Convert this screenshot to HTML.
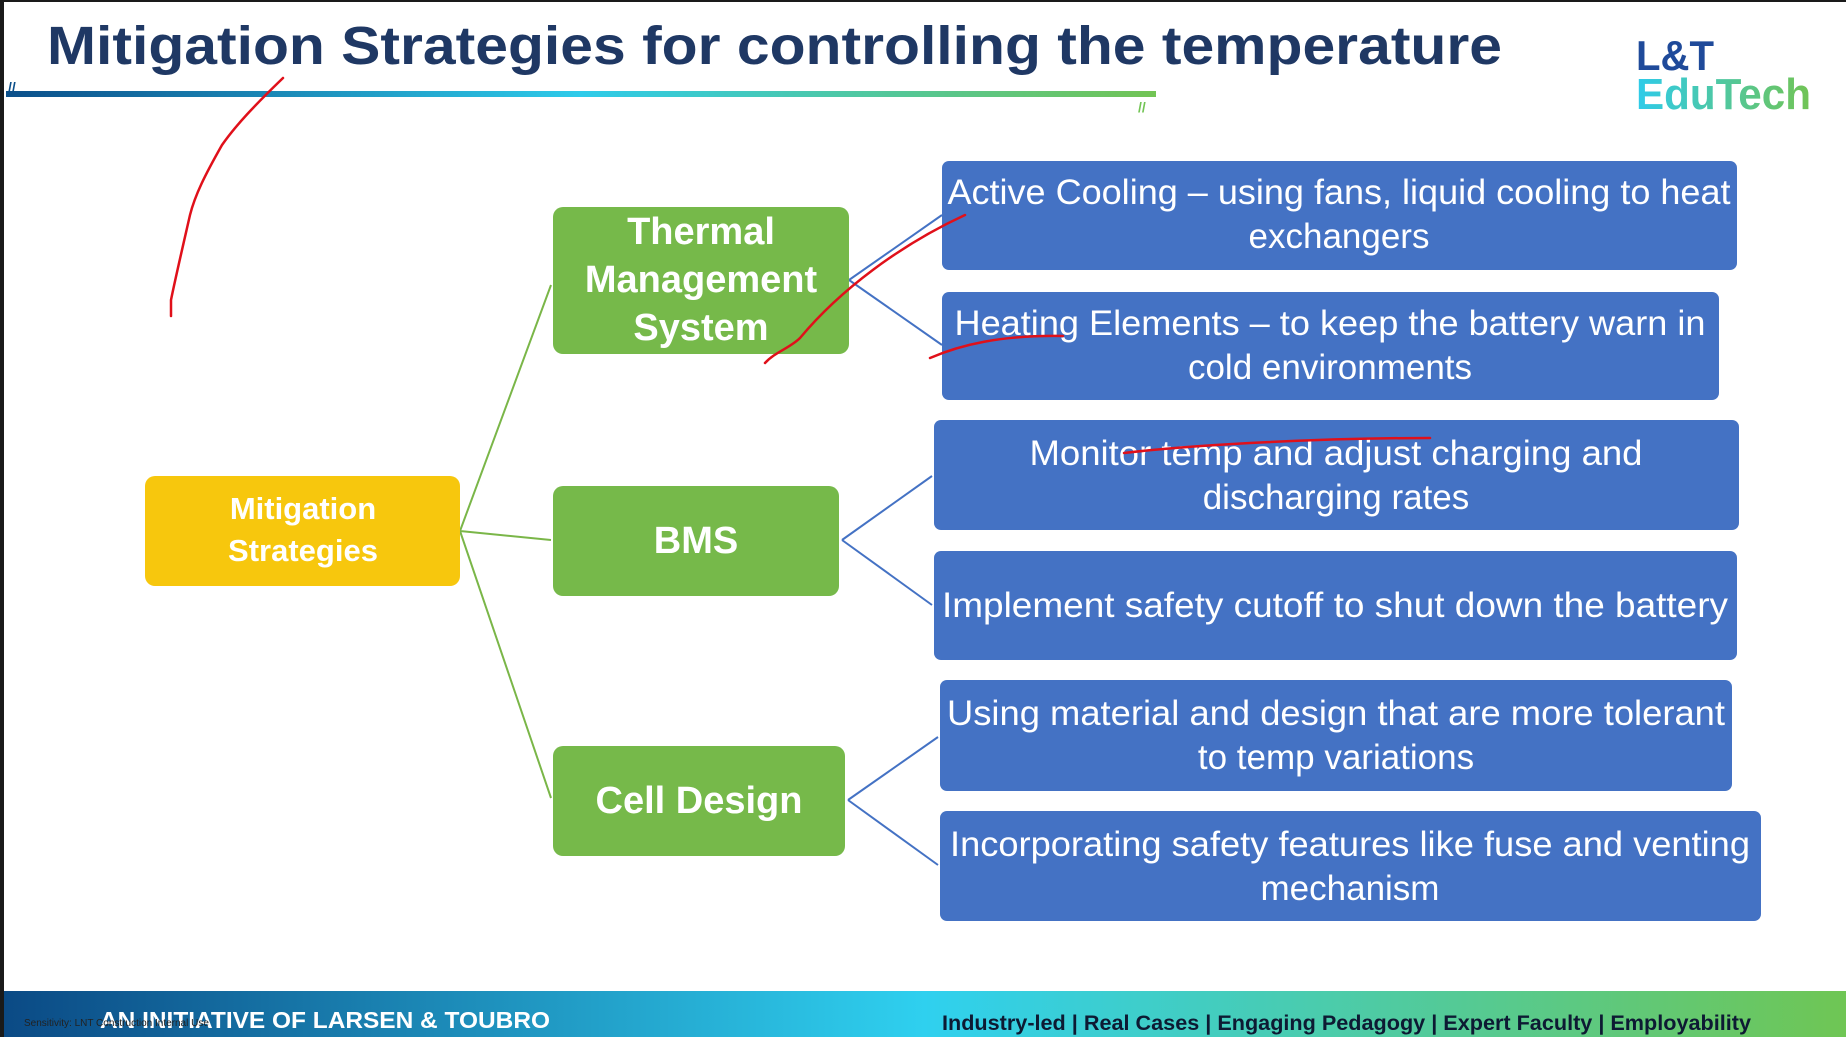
<!DOCTYPE html>
<html><head><meta charset="utf-8"><style>
html,body{margin:0;padding:0;background:#fff}
svg{display:block}
text{font-family:"Liberation Sans",sans-serif}
</style></head><body>
<svg width="1846" height="1037" viewBox="0 0 1846 1037" xmlns="http://www.w3.org/2000/svg">
<defs>
<linearGradient id="bar" x1="0" x2="1" y1="0" y2="0">
<stop offset="0" stop-color="#0b4f8a"/><stop offset="0.5" stop-color="#2ecbea"/><stop offset="1" stop-color="#72c454"/>
</linearGradient>
<linearGradient id="foot" x1="0" x2="1" y1="0" y2="0">
<stop offset="0" stop-color="#0b4a85"/><stop offset="0.5" stop-color="#2fd0ef"/><stop offset="1" stop-color="#6fc654"/>
</linearGradient>
<linearGradient id="logo" x1="0" x2="1"><stop offset="0" stop-color="#2ecbea"/><stop offset="1" stop-color="#72c454"/></linearGradient>
</defs>
<rect x="0" y="0" width="1846" height="1037" fill="#fff"/>
<rect x="0" y="0" width="4" height="1037" fill="#1a1a1a"/>
<rect x="0" y="0" width="1846" height="2" fill="#1a1a1a"/>

<text x="47" y="64" font-size="54" font-weight="bold" fill="#1f3864" textLength="1455" lengthAdjust="spacingAndGlyphs">Mitigation Strategies for controlling the temperature</text>
<rect x="6" y="91" width="1150" height="6" fill="url(#bar)"/>
<text x="8" y="92" font-size="14" font-weight="bold" fill="#0b4f8a">//</text>
<text x="1138" y="112" font-size="14" font-weight="bold" fill="#72c454">//</text>
<text x="1636" y="70" font-size="42" font-weight="bold" fill="#1f4a9a" textLength="78" lengthAdjust="spacingAndGlyphs">L&amp;T</text>
<text x="1636" y="109" font-size="44" font-weight="bold" fill="url(#logo)" textLength="175" lengthAdjust="spacingAndGlyphs">EduTech</text>

<g stroke="#7ab648" stroke-width="2" fill="none">
<path d="M460 531 L551 285 M460 531 L551 540 M460 531 L551 798"/>
</g>
<g stroke="#4472c4" stroke-width="2" fill="none">
<path d="M849 280 L942 215 M849 280 L942 345 M842 540 L932 476 M842 540 L932 605 M848 800 L938 737 M848 800 L938 865"/>
</g>

<rect x="145" y="476" width="315" height="110" rx="10" fill="#f7c70d"/>
<g fill="#fff" font-weight="bold" font-size="31" text-anchor="middle">
<text x="303" y="519">Mitigation</text>
<text x="303" y="561">Strategies</text>
</g>
<g fill="#76b94a">
<rect x="553" y="207" width="296" height="147" rx="10"/>
<rect x="553" y="486" width="286" height="110" rx="10"/>
<rect x="553" y="746" width="292" height="110" rx="10"/>
</g>
<g fill="#fff" font-weight="bold" font-size="38" text-anchor="middle">
<text x="701" y="244">Thermal</text>
<text x="701" y="292">Management</text>
<text x="701" y="340">System</text>
<text x="696" y="553">BMS</text>
<text x="699" y="813">Cell Design</text>
</g>

<g fill="#4472c4">
<rect x="942" y="161" width="795" height="109" rx="7"/>
<rect x="942" y="292" width="777" height="108" rx="7"/>
<rect x="934" y="420" width="805" height="110" rx="7"/>
<rect x="934" y="551" width="803" height="109" rx="7"/>
<rect x="940" y="680" width="792" height="111" rx="7"/>
<rect x="940" y="811" width="821" height="110" rx="7"/>
</g>
<g fill="#fff" font-size="35" text-anchor="middle" lengthAdjust="spacingAndGlyphs">
<text x="1339" y="204" textLength="783" lengthAdjust="spacingAndGlyphs">Active Cooling – using fans, liquid cooling to heat</text>
<text x="1339" y="248">exchangers</text>
<text x="1330" y="335" textLength="751" lengthAdjust="spacingAndGlyphs">Heating Elements – to keep the battery warn in</text>
<text x="1330" y="379">cold environments</text>
<text x="1336" y="465" textLength="613" lengthAdjust="spacingAndGlyphs">Monitor temp and adjust charging and</text>
<text x="1336" y="509">discharging rates</text>
<text x="1335" y="617" textLength="786" lengthAdjust="spacingAndGlyphs">Implement safety cutoff to shut down the battery</text>
<text x="1336" y="725" textLength="778" lengthAdjust="spacingAndGlyphs">Using material and design that are more tolerant</text>
<text x="1336" y="769">to temp variations</text>
<text x="1350" y="856" textLength="800" lengthAdjust="spacingAndGlyphs">Incorporating safety features like fuse and venting</text>
<text x="1350" y="900">mechanism</text>
</g>

<g stroke="#e0101a" stroke-width="2.5" fill="none" stroke-linecap="round">
<path d="M283 78 C255 105 236 125 222 145 C205 175 195 195 190 215 C182 250 175 280 171 300 L171 316"/>
<path d="M765 363 C775 352 790 348 800 338 C840 290 900 245 965 215"/>
<path d="M930 358 C960 345 1000 335 1063 336"/>
<path d="M1124 453 C1200 444 1330 438 1430 438"/>
</g>

<rect x="4" y="991" width="1842" height="46" fill="url(#foot)"/>
<text x="100" y="1028" font-size="23" font-weight="bold" fill="#fff" textLength="450" lengthAdjust="spacingAndGlyphs">AN INITIATIVE OF LARSEN &amp; TOUBRO</text>
<text x="24" y="1026" font-size="10" fill="#222">Sensitivity: LNT Construction Internal Use</text>
<text x="942" y="1030" font-size="21" font-weight="bold" fill="#0d1a33" textLength="809" lengthAdjust="spacingAndGlyphs">Industry-led | Real Cases | Engaging Pedagogy | Expert Faculty | Employability</text>
</svg>
</body></html>
